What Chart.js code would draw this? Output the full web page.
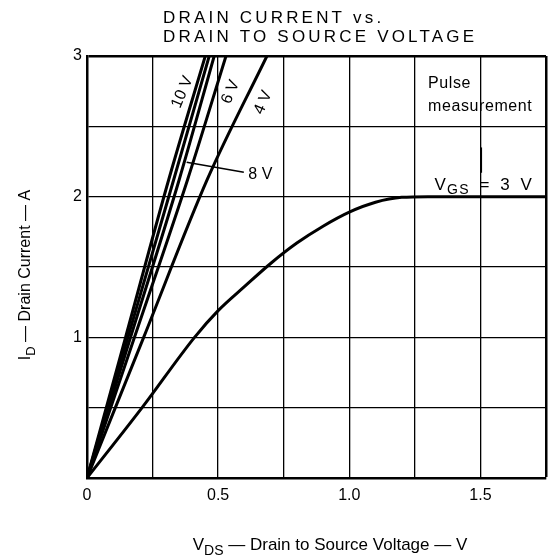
<!DOCTYPE html>
<html><head><meta charset="utf-8">
<script src="https://cdn.jsdelivr.net/npm/chart.js@4"></script>
<style>html,body{margin:0;padding:0;background:#fff}#wrap{width:554px;height:556px}</style>
</head><body><div id="wrap"><canvas id="c" width="554" height="556"></canvas></div>
<script>
// ---- text ----
const titleLines = ["DRAIN CURRENT vs.", "DRAIN TO SOURCE VOLTAGE"];
const xTickValues = [0, 0.5, 1.0, 1.5];
const xTickLabels = ["0", "0.5", "1.0", "1.5"];
const yTickValues = [1, 2, 3];
const yTickLabels = ["1", "2", "3"];

// ---- series (VDS in V, ID in A) ----
const vds3V = [0, 0.21, 0.41, 0.50, 0.60, 0.70, 0.80, 0.90, 1.00, 1.10, 1.20, 1.30, 1.75];
const id3V  = [0, 0.50, 1.00, 1.19, 1.36, 1.525, 1.67, 1.79, 1.89, 1.96, 1.995, 2.00, 2.00];

const idLines   = [0, 1.0, 2.124, 3.0];
const vds10V    = [0, 0.147, 0.312, 0.451];
const vdsLineB  = [0, 0.156, 0.331, 0.466];
const vds8V     = [0, 0.166, 0.352, 0.485];
const vds6V     = [0, 0.181, 0.384, 0.530];
const vds4V     = [0, 0.216, 0.459, 0.686];

function pts(xs, ys) { return xs.map((x, i) => ({ x: x, y: ys[i] })); }

const FONT = "'Liberation Sans', Arial, Helvetica, sans-serif";

function lineDs(label, xs, ys) {
  return {
    label: label, data: pts(xs, ys), borderColor: '#000', borderWidth: 3,
    pointRadius: 0, fill: false, tension: 0.4, cubicInterpolationMode: 'monotone'
  };
}

const annotations = {
  id: 'annotations',
  afterDraw(chart) {
    const ctx = chart.ctx, xs = chart.scales.x, ys = chart.scales.y;
    const X = v => xs.getPixelForValue(v), Y = v => ys.getPixelForValue(v);
    ctx.save();
    ctx.fillStyle = '#000';
    ctx.strokeStyle = '#000';

    // title with letter spacing fitted to reference width
    ctx.font = "17px " + FONT;
    ctx.textAlign = 'left';
    ctx.textBaseline = 'alphabetic';
    const w2 = ctx.measureText(titleLines[1]).width;
    const sp = (311 - w2) / (titleLines[1].length - 1);
    ctx.letterSpacing = sp.toFixed(2) + 'px';
    ctx.fillText(titleLines[0], 163, 23);
    ctx.fillText(titleLines[1], 163, 42);
    ctx.letterSpacing = '0px';

    // curve labels (rotated)
    ctx.font = "16px " + FONT;
    ctx.textAlign = 'center';
    ctx.textBaseline = 'middle';
    [["10 V", 0.364, 2.744], ["6 V", 0.548, 2.744], ["4 V", 0.672, 2.67]].forEach(([t, vx, vy]) => {
      ctx.save();
      ctx.translate(X(vx), Y(vy));
      ctx.rotate(-67 * Math.PI / 180);
      ctx.fillText(t, 0, 0);
      ctx.restore();
    });

    // 8 V leader
    ctx.lineWidth = 1.5;
    ctx.beginPath();
    ctx.moveTo(X(0.38), Y(2.245));
    ctx.lineTo(X(0.598), Y(2.174));
    ctx.stroke();
    ctx.textAlign = 'left';
    ctx.fillText("8 V", X(0.615), Y(2.16));

    // Pulse measurement
    ctx.textBaseline = 'alphabetic';
    ctx.letterSpacing = '0.6px';
    ctx.fillText("Pulse", X(1.30), Y(2.77));
    ctx.fillText("measurement", X(1.30), Y(2.61));

    // VGS leader
    ctx.letterSpacing = '0px';
    ctx.lineWidth = 1.2;
    ctx.beginPath();
    ctx.moveTo(X(1.504), Y(2.35));
    ctx.lineTo(X(1.504), Y(2.17));
    ctx.stroke();

    // VGS = 3 V with subscript
    ctx.letterSpacing = '1.2px';
    let px = X(1.325), py = Y(2.05);
    ctx.font = "17px " + FONT;
    ctx.fillText("V", px, py); px += ctx.measureText("V").width;
    ctx.font = "14px " + FONT;
    ctx.fillText("GS", px, py + 4); px += ctx.measureText("GS").width;
    ctx.font = "17px " + FONT;
    ctx.fillText("\u2002=\u20023\u2002V", px, py);
    ctx.letterSpacing = '0px';

    // x-axis title
    const xParts = [["V", 17, 0], ["DS", 14, 5], [" \u2014 Drain to Source Voltage \u2014 V", 17, 0]];
    let tw = 0;
    xParts.forEach(([t, s]) => { ctx.font = s + "px " + FONT; tw += ctx.measureText(t).width; });
    px = 330 - tw / 2;
    xParts.forEach(([t, s, d]) => { ctx.font = s + "px " + FONT; ctx.fillText(t, px, 550 + d); px += ctx.measureText(t).width; });

    // y-axis title (rotated)
    const yParts = [["I", 16, 0], ["D", 13, 5], [" \u2014 Drain Current \u2014 A", 16, 0]];
    tw = 0;
    yParts.forEach(([t, s]) => { ctx.font = s + "px " + FONT; tw += ctx.measureText(t).width; });
    ctx.save();
    ctx.translate(30, 275);
    ctx.rotate(-Math.PI / 2);
    px = -tw / 2;
    yParts.forEach(([t, s, d]) => { ctx.font = s + "px " + FONT; ctx.fillText(t, px, d); px += ctx.measureText(t).width; });
    ctx.restore();

    ctx.restore();
  }
};

Chart.defaults.font.family = FONT;

new Chart(document.getElementById('c'), {
  type: 'line',
  data: {
    datasets: [
      lineDs("VGS = 3 V", vds3V, id3V),
      lineDs("10 V", vds10V, idLines),
      lineDs("line B", vdsLineB, idLines),
      lineDs("8 V", vds8V, idLines),
      lineDs("6 V", vds6V, idLines),
      lineDs("4 V", vds4V, idLines)
    ]
  },
  options: {
    responsive: false,
    devicePixelRatio: 1,
    animation: false,
    layout: { padding: { top: 56, right: 5, left: 0, bottom: 0 } },
    plugins: { legend: { display: false }, tooltip: { enabled: false }, title: { display: false } },
    scales: {
      x: {
        type: 'linear', min: 0, max: 1.75,
        ticks: {
          stepSize: 0.25, autoSkip: false, maxRotation: 0, padding: 8,
          color: '#000', font: { size: 16 },
          callback: v => { const i = xTickValues.findIndex(t => Math.abs(t - v) < 1e-6); return i >= 0 ? xTickLabels[i] : ''; }
        },
        grid: { color: '#000', drawTicks: false, lineWidth: c => (c.tick && Math.abs(c.tick.value - 1.75) < 1e-6) ? 2.5 : 1.3 },
        border: { color: '#000', width: 2.5 },
        afterFit: s => { s.height = 78; }
      },
      y: {
        type: 'linear', min: 0, max: 3,
        ticks: {
          stepSize: 0.5, autoSkip: false, padding: 5,
          color: '#000', font: { size: 16 },
          callback: v => { const i = yTickValues.findIndex(t => Math.abs(t - v) < 1e-6); return i >= 0 ? yTickLabels[i] : ''; }
        },
        grid: { color: '#000', drawTicks: false, lineWidth: c => (c.tick && Math.abs(c.tick.value - 3) < 1e-6) ? 2.5 : 1.3 },
        border: { color: '#000', width: 2.5 },
        afterFit: s => { s.width = 87; }
      }
    }
  },
  plugins: [annotations]
});
</script></body></html>
